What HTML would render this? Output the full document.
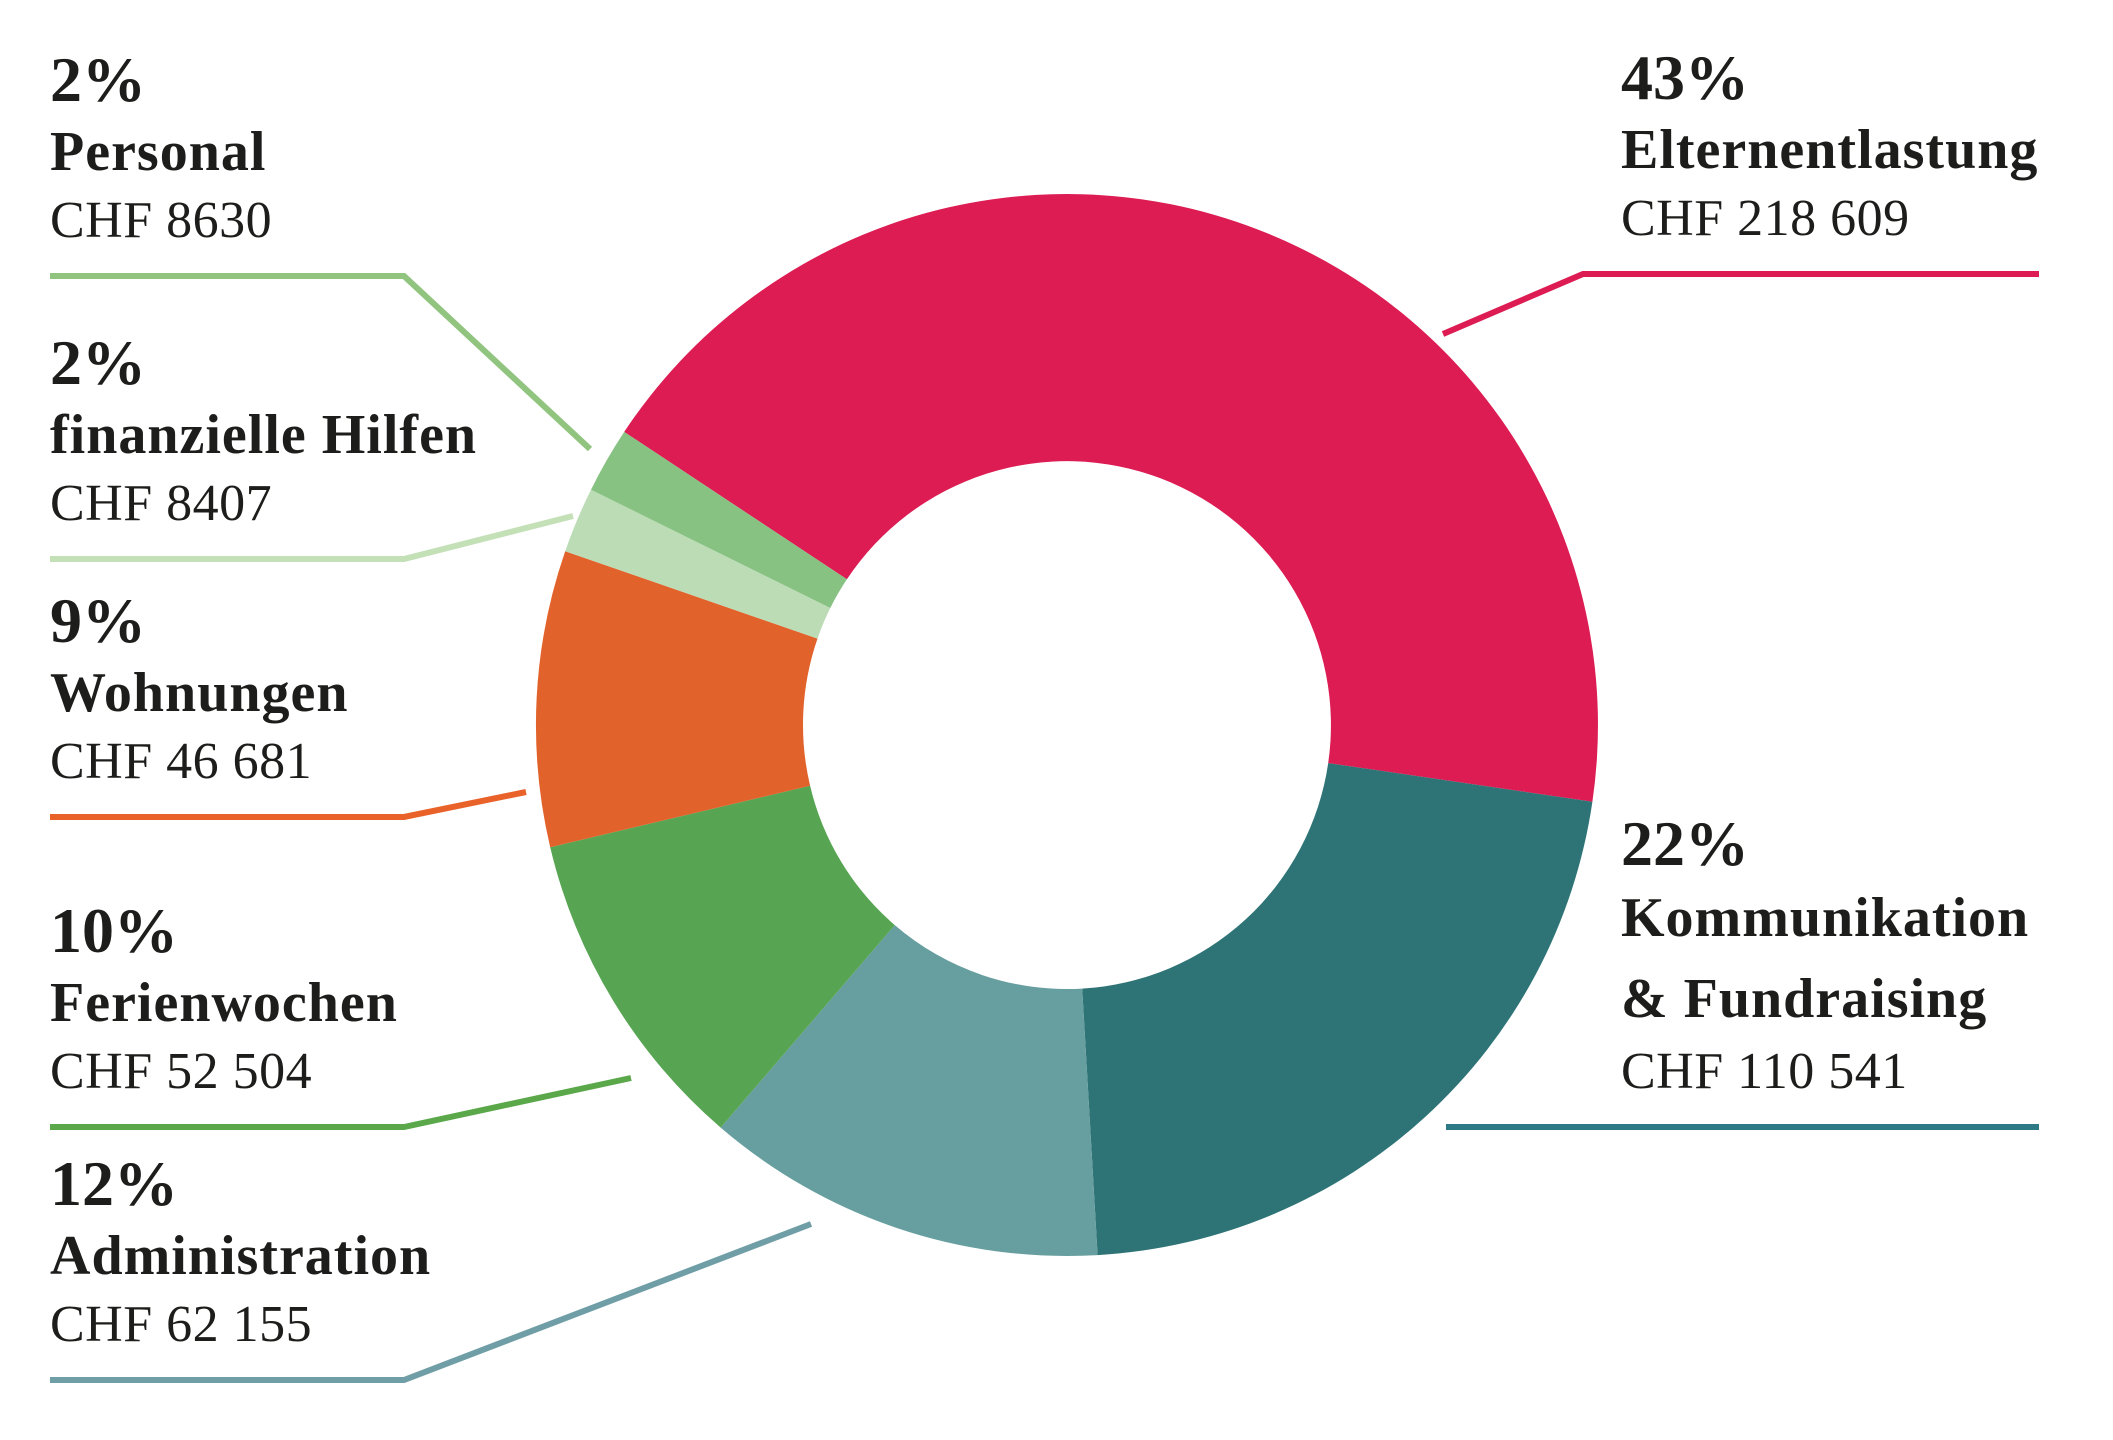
<!DOCTYPE html>
<html><head><meta charset="utf-8"><style>
html,body{margin:0;padding:0;background:#fff;}
svg{display:block}
text{font-family:"Liberation Serif",serif;fill:#1d1d1b}
.p{font-size:64px;font-weight:bold}
.n{font-size:56px;font-weight:bold;letter-spacing:1px}
.c{font-size:52px;letter-spacing:0.5px}
</style></head><body>
<svg id="s" width="2113" height="1440" viewBox="0 0 2113 1440">
<g id="d"></g>
<g fill="none" stroke-width="6">
<polyline points="50,276 404,276 590,449" stroke="#90c47f"/>
<polyline points="50,559 404,559 573,516" stroke="#c3e0b6"/>
<polyline points="50,817 404,817 526,792" stroke="#e8622a"/>
<polyline points="50,1127 404,1127 631,1078" stroke="#5aa84a"/>
<polyline points="50,1380 404,1380 811,1224" stroke="#6f9ea6"/>
<polyline points="2039,274 1583,274 1443,334" stroke="#dc1c52"/>
<polyline points="2039,1127 1446,1127" stroke="#2d7a86"/>
</g>
<text x="50" y="101" class="p">2%</text>
<text x="50" y="170" class="n">Personal</text>
<text x="50" y="237" class="c">CHF 8630</text>
<text x="50" y="384" class="p">2%</text>
<text x="50" y="453" class="n">finanzielle Hilfen</text>
<text x="50" y="520" class="c">CHF 8407</text>
<text x="50" y="642" class="p">9%</text>
<text x="50" y="711" class="n">Wohnungen</text>
<text x="50" y="778" class="c">CHF 46 681</text>
<text x="50" y="952" class="p">10%</text>
<text x="50" y="1021" class="n">Ferienwochen</text>
<text x="50" y="1088" class="c">CHF 52 504</text>
<text x="50" y="1205" class="p">12%</text>
<text x="50" y="1274" class="n">Administration</text>
<text x="50" y="1341" class="c">CHF 62 155</text>
<text x="1621" y="99" class="p">43%</text>
<text x="1621" y="168" class="n">Elternentlastung</text>
<text x="1621" y="235" class="c">CHF 218 609</text>
<text x="1621" y="865" class="p">22%</text>
<text x="1621" y="936" class="n">Kommunikation</text>
<text x="1621" y="1017" class="n">&amp; Fundraising</text>
<text x="1621" y="1088" class="c">CHF 110 541</text>
</svg>
<script>
var cx=1067,cy=725,R=531,r=264;
var segs=[[-146.5,8.3,"#dc1c52"],[8.3,86.7,"#2e7476"],[86.7,130.7,"#679e9f"],[130.7,166.7,"#57a552"],[166.7,199.1,"#e2622b"],[199.1,206.3,"#bcdcb6"],[206.3,213.5,"#88c283"]];
var g=document.getElementById("d"),h="";
function pt(a,rad){a=a*Math.PI/180;return (cx+rad*Math.cos(a)).toFixed(1)+","+(cy+rad*Math.sin(a)).toFixed(1);}
segs.forEach(function(s){var a0=s[0],a1=s[1],lg=(a1-a0)>180?1:0;
h+='<path fill="'+s[2]+'" d="M'+pt(a0,R)+' A'+R+','+R+' 0 '+lg+' 1 '+pt(a1,R)+' L'+pt(a1,r)+' A'+r+','+r+' 0 '+lg+' 0 '+pt(a0,r)+' Z"/>';});
g.innerHTML=h;
</script>
</body></html>
